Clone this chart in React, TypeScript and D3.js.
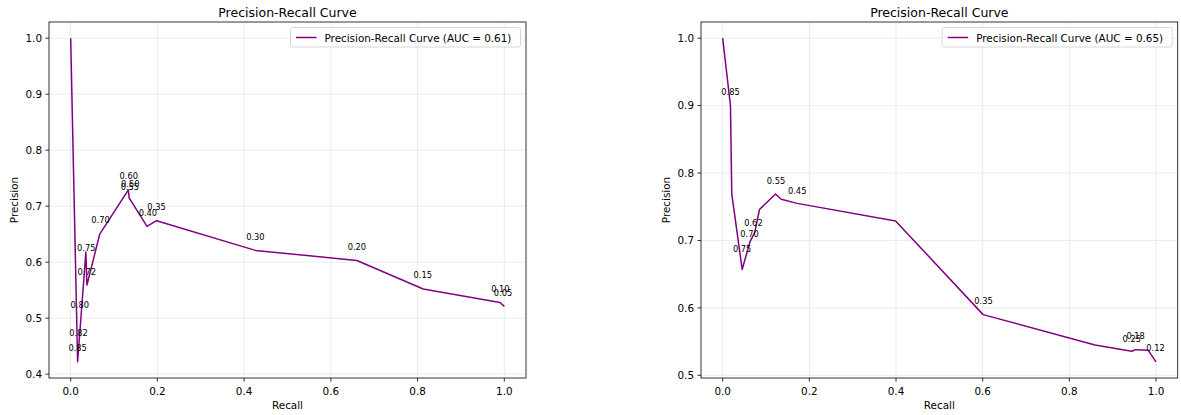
import React from 'react';
import * as d3 from 'd3';

// left model
const recallA = [0, 0.016, 0.035, 0.0375, 0.067, 0.133, 0.135, 0.137, 0.176, 0.198, 0.426, 0.660, 0.813, 0.990, 1.0];
const precisionA = [1.0, 0.422, 0.618, 0.559, 0.650, 0.729, 0.714, 0.712, 0.664, 0.674, 0.621, 0.603, 0.552, 0.528, 0.521];
const thrLabelsA = ['0.85', '0.82', '0.80', '0.75', '0.72', '0.70', '0.60', '0.55', '0.50', '0.40', '0.35', '0.30', '0.20', '0.15', '0.10', '0.05'];
const thrRecallA = [0.016, 0.018, 0.021, 0.036, 0.037, 0.069, 0.134, 0.1365, 0.1375, 0.178, 0.198, 0.426, 0.660, 0.812, 0.991, 0.997];
const thrPrecisionA = [0.422, 0.450, 0.500, 0.601, 0.559, 0.651, 0.730, 0.711, 0.715, 0.663, 0.674, 0.621, 0.603, 0.553, 0.528, 0.521];

// right model
const recallB = [0, 0.018, 0.021, 0.045, 0.063, 0.074, 0.085, 0.122, 0.135, 0.172, 0.399, 0.601, 0.859, 0.944, 0.952, 0.982, 1.0];
const precisionB = [1.0, 0.900, 0.769, 0.657, 0.698, 0.712, 0.746, 0.769, 0.761, 0.755, 0.729, 0.590, 0.545, 0.5356, 0.538, 0.537, 0.520];
const thrLabelsB = ['0.85', '0.75', '0.70', '0.62', '0.55', '0.45', '0.35', '0.25', '0.18', '0.12'];
const thrRecallB = [0.018, 0.045, 0.062, 0.071, 0.123, 0.172, 0.602, 0.944, 0.953, 0.999];
const thrPrecisionB = [0.900, 0.668, 0.689, 0.7065, 0.769, 0.754, 0.591, 0.534, 0.538, 0.521];

const aucA = '0.61';
const aucB = '0.65';
const xTicks = [0, 0.2, 0.4, 0.6, 0.8, 1.0];

const font = '"DejaVu Sans", sans-serif';
const purple = '#800080';

const pad = (ext) => {
  const m = (ext[1] - ext[0]) * 0.05;
  return [ext[0] - m, ext[1] + m];
};

const Panel = ({ left, right, recall, precision, labels, lr, lp, auc }) => {
  const top = 22, bottom = 378;
  const x = d3.scaleLinear().domain(pad(d3.extent(recall))).range([left, right]);
  const y = d3.scaleLinear().domain(pad(d3.extent(precision))).range([bottom, top]);
  const yTicks = y.ticks(6).filter(t => t >= y.domain()[0] && t <= y.domain()[1]);
  const line = d3.line().x(d => x(d[0])).y(d => y(d[1]));
  const pts = recall.map((r, i) => [r, precision[i]]);
  const cx = (left + right) / 2;
  const legW = 230, legR = right - 5.5;

  return (
    <g fontFamily={font}>
      {xTicks.map(t => (
        <line key={'gx' + t} x1={x(t)} x2={x(t)} y1={top} y2={bottom} stroke="#b0b0b0" strokeOpacity={0.3} strokeWidth={0.8} />
      ))}
      {yTicks.map(t => (
        <line key={'gy' + t} x1={left} x2={right} y1={y(t)} y2={y(t)} stroke="#b0b0b0" strokeOpacity={0.3} strokeWidth={0.8} />
      ))}
      <path d={line(pts)} fill="none" stroke={purple} strokeWidth={1.5} strokeLinejoin="round" />
      {labels.map((l, i) => (
        <text key={'a' + i} x={x(lr[i])} y={y(lp[i]) - 10.4} fontSize={8.3} textAnchor="middle" fill="#000">{l}</text>
      ))}
      <rect x={left} y={top} width={right - left} height={bottom - top} fill="none" stroke="#000" strokeWidth={0.8} />
      {xTicks.map(t => (
        <g key={'xt' + t}>
          <line x1={x(t)} x2={x(t)} y1={bottom} y2={bottom + 3.6} stroke="#000" strokeWidth={0.8} />
          <text x={x(t)} y={395} fontSize={10.4} textAnchor="middle">{t.toFixed(1)}</text>
        </g>
      ))}
      {yTicks.map(t => (
        <g key={'yt' + t}>
          <line x1={left - 3.6} x2={left} y1={y(t)} y2={y(t)} stroke="#000" strokeWidth={0.8} />
          <text x={left - 7} y={y(t) + 3.8} fontSize={10.4} textAnchor="end">{t.toFixed(1)}</text>
        </g>
      ))}
      <text x={cx} y={16.5} fontSize={12.5} textAnchor="middle">Precision-Recall Curve</text>
      <text x={cx} y={409} fontSize={10.4} textAnchor="middle">Recall</text>
      <text transform={`translate(${left - 31},${(top + bottom) / 2}) rotate(-90)`} fontSize={10.4} textAnchor="middle">Precision</text>
      <rect x={legR - legW} y={27.5} width={legW} height={19.5} rx={2.5} fill="#fff" fillOpacity={0.8} stroke="#cccccc" strokeWidth={0.8} />
      <line x1={legR - legW + 5.5} x2={legR - legW + 26} y1={37.5} y2={37.5} stroke={purple} strokeWidth={1.5} />
      <text x={legR - legW + 34} y={41.5} fontSize={10.4}>{`Precision-Recall Curve (AUC = ${auc})`}</text>
    </g>
  );
};

const App = () => {
  return (
    <svg width={1181} height={415} style={{ position: 'absolute', left: 0, top: 0, background: '#fff' }}>
      <Panel left={49} right={526} recall={recallA} precision={precisionA} labels={thrLabelsA} lr={thrRecallA} lp={thrPrecisionA} auc={aucA} />
      <Panel left={701} right={1177.7} recall={recallB} precision={precisionB} labels={thrLabelsB} lr={thrRecallB} lp={thrPrecisionB} auc={aucB} />
    </svg>
  );
};

export default App;
